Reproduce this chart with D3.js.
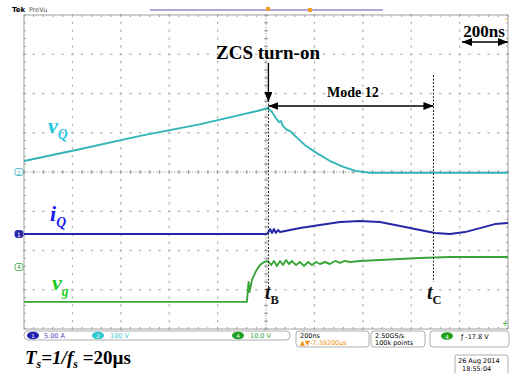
<!DOCTYPE html>
<html>
<head>
<meta charset="utf-8">
<script src="https://cdn.jsdelivr.net/npm/d3@7"></script>
<style>
  html, body { margin: 0; padding: 0; background: #fff; }
  svg { display: block; }
  .serif { font-family: "Liberation Serif", "Times New Roman", serif; font-weight: bold; }
  .ui { font-family: "DejaVu Sans", Arial, sans-serif; }
</style>
</head>
<body>
<div id="chart"></div>
<script>
// scope settings: 10 horizontal divisions of 200 ns, 8 vertical divisions
const timeTicks = d3.range(0, 2001, 200);
const divTicks = d3.range(-4, 5, 1);

// vQ : 100 V/div, ground at centre line  [time ns, volts]
const vqTrace = [
  [0, 28], [230, 58], [480, 92], [730, 122], [890, 145], [980, 158], [1008, 163],
  [1025, 153], [1040, 138], [1054, 127], [1062, 130], [1070, 117], [1087, 107],
  [1100, 104], [1120, 92], [1160, 69], [1210, 48], [1265, 28], [1320, 13],
  [1370, 3], [1430, -2], [2000, -2]
];

// iQ : 5 A/div  [time ns, amps]
const iqTrace = [
  [0, 0], [1000, 0], [1008, 0.13], [1017, 0.64], [1025, 0.13], [1033, 0.64],
  [1041, 0.13], [1050, 0.51], [1058, 0.25], [1079, 0.38], [1141, 0.76],
  [1223, 1.15], [1306, 1.53], [1388, 1.66], [1471, 1.53], [1554, 1.02],
  [1636, 0.51], [1698, 0.13], [1760, 0], [1822, 0.25], [1884, 0.76],
  [1946, 1.27], [2000, 1.4]
];

// vg : 10 V/div  [time ns, volts]
const vgTrace = [
  [0, -8.9], [921, -8.9], [928, -3.8], [932, -6.4], [942, -3.3], [959, -1.0],
  [975, 0.5], [992, 1.27], [1008, 1.53], [1021, 0.51], [1033, 1.53], [1045, 0.25],
  [1058, 1.53], [1070, 0.51], [1083, 1.78], [1095, 0.76], [1107, 1.53],
  [1124, 0.51], [1140, 1.27], [1157, 0.25], [1174, 1.27], [1190, 0.51],
  [1207, 1.27], [1223, 0.76], [1244, 1.27], [1264, 0.76], [1285, 1.53],
  [1306, 1.02], [1326, 1.53], [1347, 1.27], [1388, 1.53], [1471, 1.78],
  [1636, 2.29], [1760, 2.55], [2000, 2.55]
];

// channel scale (units per division) and ground position (divisions from centre)
const channels = [
  { name: 'vQ', data: vqTrace, perDiv: 100, ground: 0.0, color: '#33b4b8', marker: '2' },
  { name: 'iQ', data: iqTrace, perDiv: 5, ground: -1.58, color: '#2626a8', marker: '1' },
  { name: 'vg', data: vgTrace, perDiv: 10, ground: -2.42, color: '#3aa63a', marker: '4' }
];

const width = 515;
const height = 373;
const plot = { left: 24, right: 508, top: 15, bottom: 329 };

const x = d3.scaleLinear().domain([0, 2000]).range([plot.left, plot.right]);
const y = d3.scaleLinear().domain([-4, 4]).range([plot.bottom, plot.top]);

const svg = d3.select('#chart')
  .append('svg')
  .attr('width', width)
  .attr('height', height);

// Top bar
svg.append('text').attr('class', 'ui').attr('x', 12).attr('y', 12)
  .style('font-size', '7px').style('font-weight', 'bold').text('Tek');
svg.append('text').attr('class', 'ui').attr('x', 29).attr('y', 12)
  .style('font-size', '6.5px').attr('fill', '#555').text('PreVu');
svg.append('line')
  .attr('x1', 150).attr('x2', 383).attr('y1', 10).attr('y2', 10)
  .attr('stroke', '#b0a8dc').attr('stroke-width', 2);
svg.append('rect').attr('x', 266).attr('y', 7).attr('width', 4).attr('height', 4)
  .attr('fill', '#f0a020');
svg.append('rect').attr('x', 308).attr('y', 8).attr('width', 4).attr('height', 4)
  .attr('fill', '#f0a020');
svg.append('text').attr('class', 'ui').attr('x', 505).attr('y', 21)
  .style('font-size', '4px').attr('fill', '#f0a020').text('T');

// Graticule: dotted major lines with a dot every minor division
const grid = svg.append('g').attr('fill', '#b4b4b4');
const minorX = d3.range(0, 2000.1, 40);
const minorY = d3.range(-4, 4.01, 0.2);

divTicks.slice(1, -1).forEach((d) => {
  grid.selectAll(null)
    .data(minorX)
    .join('rect')
    .attr('x', (t) => x(t) - 1.2)
    .attr('y', y(d) - 0.6)
    .attr('width', 2.4)
    .attr('height', 1.3);
});
timeTicks.slice(1, -1).forEach((t) => {
  grid.selectAll(null)
    .data(minorY)
    .join('rect')
    .attr('x', x(t) - 0.6)
    .attr('y', (d) => y(d) - 1.2)
    .attr('width', 1.3)
    .attr('height', 2.4);
});

// centre cross and frame ticks
const ticks = svg.append('g').attr('stroke', '#a0a0a0').attr('stroke-width', 1);
ticks.append('line')
  .attr('x1', plot.left).attr('x2', plot.right).attr('y1', y(0)).attr('y2', y(0))
  .attr('stroke', '#b4b4b4').attr('stroke-dasharray', '1.5,1.5');
ticks.append('line')
  .attr('x1', x(1000)).attr('x2', x(1000)).attr('y1', plot.top).attr('y2', plot.bottom)
  .attr('stroke', '#b4b4b4').attr('stroke-dasharray', '1.5,1.5');
minorX.forEach((t) => {
  ticks.append('line').attr('x1', x(t)).attr('x2', x(t))
    .attr('y1', y(0) - 2).attr('y2', y(0) + 2);
  ticks.append('line').attr('x1', x(t)).attr('x2', x(t))
    .attr('y1', plot.top).attr('y2', plot.top + 2);
  ticks.append('line').attr('x1', x(t)).attr('x2', x(t))
    .attr('y1', plot.bottom - 2).attr('y2', plot.bottom);
});
minorY.forEach((d) => {
  ticks.append('line').attr('x1', x(1000) - 2).attr('x2', x(1000) + 2)
    .attr('y1', y(d)).attr('y2', y(d));
  ticks.append('line').attr('x1', plot.left).attr('x2', plot.left + 2)
    .attr('y1', y(d)).attr('y2', y(d));
  ticks.append('line').attr('x1', plot.right - 2).attr('x2', plot.right)
    .attr('y1', y(d)).attr('y2', y(d));
});

svg.append('rect')
  .attr('x', plot.left).attr('y', plot.top)
  .attr('width', plot.right - plot.left).attr('height', plot.bottom - plot.top)
  .attr('fill', 'none').attr('stroke', '#a0a0a0').attr('stroke-width', 1);

// Traces
channels.forEach((ch) => {
  const line = d3.line()
    .x((d) => x(d[0]))
    .y((d) => y(ch.ground + d[1] / ch.perDiv));

  svg.append('path')
    .datum(ch.data)
    .attr('d', line)
    .attr('fill', 'none')
    .attr('stroke', ch.color)
    .attr('stroke-width', 1.9)
    .attr('stroke-linejoin', 'round');

  // ground marker at left edge
  svg.append('rect')
    .attr('x', 15).attr('y', y(ch.ground) - 3.5)
    .attr('width', 8).attr('height', 7).attr('rx', 2)
    .attr('fill', ch.marker === '1' ? ch.color : '#fff')
    .attr('stroke', ch.color).attr('stroke-width', 0.8);
  svg.append('text').attr('class', 'ui')
    .attr('x', 19).attr('y', y(ch.ground) + 2.5)
    .attr('text-anchor', 'middle')
    .style('font-size', '6px')
    .attr('fill', ch.marker === '1' ? '#fff' : ch.color)
    .text(ch.marker);
});

// trigger level marker (right)
svg.append('text').attr('class', 'ui').attr('x', 505).attr('y', 326)
  .attr('text-anchor', 'middle').style('font-size', '8px').attr('fill', '#3aa63a').text('+');

// Annotations
const tB = 1010;
const tC = 1692;

const defs = svg.append('defs');
defs.append('marker')
  .attr('id', 'arrow')
  .attr('viewBox', '0 0 10 8')
  .attr('refX', 10).attr('refY', 4)
  .attr('markerWidth', 10).attr('markerHeight', 8)
  .attr('markerUnits', 'userSpaceOnUse')
  .attr('orient', 'auto-start-reverse')
  .append('path').attr('d', 'M0,0L10,4L0,8Z').attr('fill', '#000');

// dashed time markers
svg.append('line')
  .attr('x1', x(tB)).attr('x2', x(tB)).attr('y1', 100).attr('y2', 287)
  .attr('stroke', '#222').attr('stroke-width', 1).attr('stroke-dasharray', '2,1.5');
svg.append('line')
  .attr('x1', x(tC)).attr('x2', x(tC)).attr('y1', 75).attr('y2', 282)
  .attr('stroke', '#222').attr('stroke-width', 1).attr('stroke-dasharray', '2,1.5');

// ZCS turn-on
svg.append('text').attr('class', 'serif')
  .attr('x', 268).attr('y', 59).attr('text-anchor', 'middle')
  .style('font-size', '19px').text('ZCS turn-on');
svg.append('line')
  .attr('x1', x(tB)).attr('x2', x(tB)).attr('y1', 63).attr('y2', 102)
  .attr('stroke', '#000').attr('stroke-width', 1.3)
  .attr('marker-end', 'url(#arrow)');

// Mode 12
svg.append('text').attr('class', 'serif')
  .attr('x', (x(tB) + x(tC)) / 2 + 2).attr('y', 97).attr('text-anchor', 'middle')
  .style('font-size', '14px').text('Mode 12');
svg.append('line')
  .attr('x1', x(tB)).attr('x2', x(tC)).attr('y1', 106).attr('y2', 106)
  .attr('stroke', '#000').attr('stroke-width', 1.3)
  .attr('marker-start', 'url(#arrow)').attr('marker-end', 'url(#arrow)');

// 200ns scale
svg.append('text').attr('class', 'serif')
  .attr('x', 484).attr('y', 37).attr('text-anchor', 'middle')
  .style('font-size', '17px').text('200ns');
svg.append('line')
  .attr('x1', x(1810)).attr('x2', plot.right).attr('y1', 42).attr('y2', 42)
  .attr('stroke', '#000').attr('stroke-width', 1.3)
  .attr('marker-start', 'url(#arrow)').attr('marker-end', 'url(#arrow)');

// t_B, t_C labels
function subLabel(px, py, main, sub, color, size, italicSub) {
  const t = svg.append('text').attr('class', 'serif')
    .attr('x', px).attr('y', py).attr('fill', color)
    .style('font-size', size + 'px');
  t.append('tspan').style('font-style', 'italic').text(main);
  t.append('tspan')
    .attr('dy', size * 0.25)
    .style('font-size', (size * 0.62) + 'px')
    .style('font-style', italicSub ? 'italic' : 'normal')
    .text(sub);
}
subLabel(265, 299, 't', 'B', '#111', 20, false);
subLabel(427, 299, 't', 'C', '#111', 20, false);

subLabel(48, 133, 'v', 'Q', '#22c4e4', 22, true);
subLabel(50, 221, 'i', 'Q', '#1818f0', 22, true);
subLabel(52, 290, 'v', 'g', '#22cc22', 22, true);

// Status bar
const bar = svg.append('g').attr('class', 'ui').style('font-size', '6.5px');
bar.append('rect').attr('x', 24).attr('y', 331).attr('width', 266).attr('height', 9)
  .attr('rx', 4).attr('fill', '#fff').attr('stroke', '#999').attr('stroke-width', 0.8);
[[296, 73], [371, 54], [430, 79]].forEach(([bx, bw]) => {
  bar.append('rect').attr('x', bx).attr('y', 331).attr('width', bw).attr('height', 16)
    .attr('rx', 3).attr('fill', '#fff').attr('stroke', '#999').attr('stroke-width', 0.8);
});
const chips = [
  { cx: 33, label: '1', color: '#2020b0', text: '5.00 A', tx: 44, tcolor: '#4848c0' },
  { cx: 98, label: '2', color: '#30c8d0', text: '100 V', tx: 110, tcolor: '#40c8d0' },
  { cx: 238, label: '4', color: '#20a020', text: '10.0 V', tx: 250, tcolor: '#30a030' }
];
chips.forEach((c) => {
  bar.append('ellipse').attr('cx', c.cx).attr('cy', 335.5).attr('rx', 6).attr('ry', 3.8)
    .attr('fill', c.color);
  bar.append('text').attr('x', c.cx).attr('y', 338).attr('text-anchor', 'middle')
    .attr('fill', '#fff').style('font-size', '5.5px').text(c.label);
  bar.append('text').attr('x', c.tx).attr('y', 338).attr('fill', c.tcolor).text(c.text);
});
bar.append('text').attr('x', 300).attr('y', 338).text('200ns');
bar.append('text').attr('x', 300).attr('y', 345).attr('fill', '#f09010')
  .text('\u25B2\u25BC-7.39200\u00B5s');
bar.append('text').attr('x', 375).attr('y', 338).text('2.50GS/s');
bar.append('text').attr('x', 375).attr('y', 345).text('100k points');
bar.append('ellipse').attr('cx', 447).attr('cy', 336).attr('rx', 6).attr('ry', 3.8)
  .attr('fill', '#20a020');
bar.append('text').attr('x', 447).attr('y', 338.5).attr('text-anchor', 'middle')
  .attr('fill', '#fff').style('font-size', '5.5px').text('4');
bar.append('text').attr('x', 461).attr('y', 338.5).text('\u0192  -17.8 V');

// date box
bar.append('rect').attr('x', 455).attr('y', 355).attr('width', 53).attr('height', 20)
  .attr('rx', 2).attr('fill', '#fff').attr('stroke', '#999').attr('stroke-width', 0.8);
bar.append('text').attr('x', 458).attr('y', 363).text('26 Aug 2014');
bar.append('text').attr('x', 462).attr('y', 371).text('18:55:04');

// period note
const note = svg.append('text').attr('class', 'serif')
  .attr('x', 25).attr('y', 364).style('font-size', '19px');
note.append('tspan').style('font-style', 'italic').text('T');
note.append('tspan').attr('dy', 4).style('font-size', '12px').style('font-style', 'italic').text('s');
note.append('tspan').attr('dy', -4).style('font-style', 'italic').text('=1/f');
note.append('tspan').attr('dy', 4).style('font-size', '12px').style('font-style', 'italic').text('s');
note.append('tspan').attr('dy', -4).text(' =20\u00B5s');
</script>
</body>
</html>
